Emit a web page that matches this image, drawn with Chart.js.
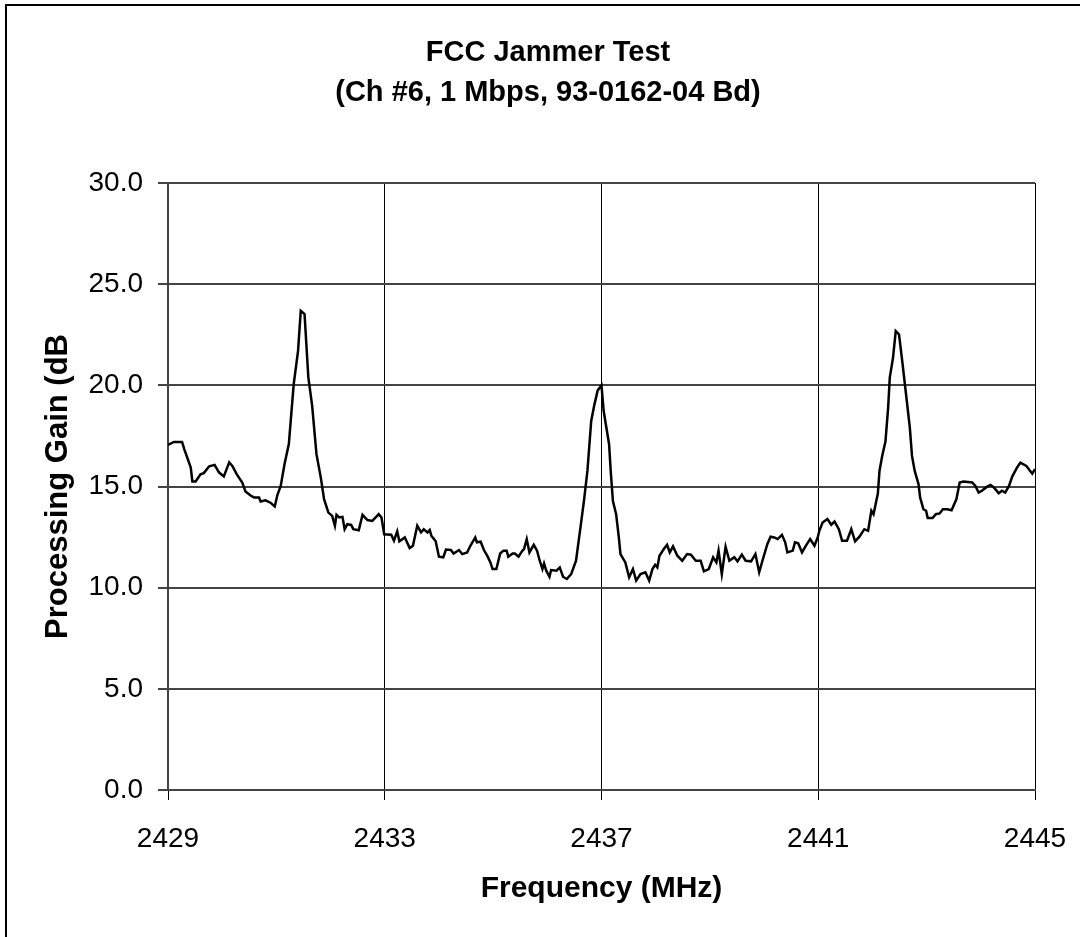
<!DOCTYPE html>
<html>
<head>
<meta charset="utf-8">
<script src="https://cdn.jsdelivr.net/npm/chart.js@4.4.1/dist/chart.umd.min.js"></script>
<style>
  body { margin: 0; background: #fff; }
  canvas { display: block; }
</style>
</head>
<body>
<canvas id="JammerChart" width="1080" height="937"></canvas>
<script>
// frequency (MHz) and processing gain (dB)
const freqs = [
  2429.00, 2429.11, 2429.26, 2429.30, 2429.42, 2429.45, 2429.51, 2429.60, 2429.66, 2429.76,
  2429.86, 2429.94, 2430.03, 2430.13, 2430.19, 2430.27, 2430.37, 2430.43, 2430.53, 2430.59,
  2430.68, 2430.71, 2430.80, 2430.89, 2430.97, 2431.02, 2431.08, 2431.15, 2431.23, 2431.26,
  2431.32, 2431.40, 2431.45, 2431.52, 2431.59, 2431.66, 2431.74, 2431.82, 2431.88, 2431.96,
  2432.03, 2432.08, 2432.11, 2432.16, 2432.22, 2432.26, 2432.31, 2432.38, 2432.42, 2432.52,
  2432.59, 2432.68, 2432.77, 2432.89, 2432.94, 2432.99, 2433.12, 2433.17, 2433.23, 2433.27,
  2433.37, 2433.46, 2433.52, 2433.60, 2433.67, 2433.72, 2433.79, 2433.83, 2433.86, 2433.94,
  2434.00, 2434.08, 2434.13, 2434.22, 2434.27, 2434.37, 2434.43, 2434.52, 2434.58, 2434.67,
  2434.70, 2434.77, 2434.83, 2434.89, 2434.95, 2434.99, 2435.06, 2435.13, 2435.19, 2435.25,
  2435.28, 2435.36, 2435.40, 2435.47, 2435.53, 2435.57, 2435.62, 2435.67, 2435.75, 2435.81,
  2435.86, 2435.91, 2435.94, 2435.98, 2436.04, 2436.07, 2436.17, 2436.23, 2436.29, 2436.36,
  2436.44, 2436.53, 2436.62, 2436.68, 2436.74, 2436.81, 2436.87, 2436.93, 2437.00, 2437.04,
  2437.14, 2437.17, 2437.21, 2437.27, 2437.32, 2437.35, 2437.44, 2437.51, 2437.58, 2437.64,
  2437.72, 2437.81, 2437.88, 2437.94, 2437.99, 2438.03, 2438.07, 2438.15, 2438.21, 2438.26,
  2438.32, 2438.40, 2438.49, 2438.58, 2438.65, 2438.74, 2438.83, 2438.89, 2438.98, 2439.06,
  2439.12, 2439.16, 2439.22, 2439.29, 2439.36, 2439.45, 2439.51, 2439.59, 2439.66, 2439.76,
  2439.84, 2439.91, 2439.97, 2440.06, 2440.12, 2440.19, 2440.25, 2440.33, 2440.39, 2440.43,
  2440.53, 2440.57, 2440.63, 2440.70, 2440.77, 2440.85, 2440.93, 2440.99, 2441.02, 2441.08,
  2441.17, 2441.24, 2441.30, 2441.38, 2441.44, 2441.53, 2441.61, 2441.68, 2441.76, 2441.85,
  2441.92, 2441.98, 2442.02, 2442.10, 2442.13, 2442.18, 2442.24, 2442.29, 2442.32, 2442.38,
  2442.43, 2442.49, 2442.55, 2442.62, 2442.69, 2442.73, 2442.78, 2442.85, 2442.88, 2442.94,
  2442.99, 2443.02, 2443.11, 2443.17, 2443.24, 2443.30, 2443.38, 2443.46, 2443.55, 2443.61,
  2443.68, 2443.84, 2443.90, 2443.96, 2444.02, 2444.11, 2444.18, 2444.24, 2444.33, 2444.39,
  2444.45, 2444.52, 2444.58, 2444.67, 2444.73, 2444.84, 2444.90, 2444.95, 2445.00
];

const gains = [
  17.06, 17.20, 17.20, 16.85, 15.94, 15.25, 15.25, 15.60, 15.66, 16.00,
  16.07, 15.70, 15.50, 16.19, 16.00, 15.60, 15.20, 14.75, 14.54, 14.46,
  14.46, 14.26, 14.32, 14.20, 14.01, 14.59, 15.03, 16.10, 17.10, 18.08,
  20.06, 21.70, 23.68, 23.52, 20.39, 19.00, 16.60, 15.44, 14.37, 13.71,
  13.55, 13.06, 13.60, 13.47, 13.50, 12.89, 13.14, 13.10, 12.89, 12.84,
  13.60, 13.34, 13.30, 13.63, 13.47, 12.64, 12.62, 12.32, 12.78, 12.29,
  12.48, 11.96, 12.07, 13.06, 12.73, 12.89, 12.73, 12.85, 12.57, 12.29,
  11.53, 11.50, 11.88, 11.86, 11.69, 11.86, 11.66, 11.74, 12.07, 12.48,
  12.24, 12.27, 11.86, 11.58, 11.25, 10.92, 10.92, 11.69, 11.83, 11.83,
  11.53, 11.69, 11.69, 11.53, 11.79, 11.91, 12.40, 11.74, 12.12, 11.83,
  11.33, 10.92, 11.20, 10.84, 10.54, 10.87, 10.84, 11.00, 10.54, 10.43,
  10.67, 11.33, 13.14, 14.37, 15.77, 18.24, 19.06, 19.75, 20.00, 18.73,
  17.09, 15.77, 14.29, 13.63, 12.48, 11.66, 11.25, 10.51, 10.92, 10.35,
  10.67, 10.76, 10.35, 10.92, 11.13, 11.00, 11.58, 11.91, 12.12, 11.74,
  12.04, 11.58, 11.33, 11.66, 11.63, 11.33, 11.33, 10.81, 10.92, 11.50,
  11.25, 11.83, 10.67, 12.02, 11.33, 11.50, 11.30, 11.63, 11.33, 11.30,
  11.66, 10.76, 11.33, 12.15, 12.52, 12.48, 12.40, 12.61, 12.24, 11.74,
  11.83, 12.24, 12.19, 11.74, 12.07, 12.40, 12.07, 12.48, 12.81, 13.22,
  13.39, 13.11, 13.27, 12.89, 12.32, 12.32, 12.89, 12.29, 12.52, 12.89,
  12.81, 13.80, 13.63, 14.65, 15.77, 16.51, 17.22, 18.90, 20.38, 21.37,
  22.68, 22.52, 21.20, 19.56, 17.91, 16.51, 15.77, 15.12, 14.46, 13.88,
  13.80, 13.44, 13.44, 13.63, 13.67, 13.88, 13.88, 13.83, 14.38, 15.20,
  15.25, 15.20, 15.03, 14.70, 14.79, 14.98, 15.08, 14.95, 14.67, 14.79,
  14.70, 15.03, 15.49, 15.94, 16.18, 16.02, 15.80, 15.64, 15.86
];

const titleLines = ['FCC Jammer Test', '(Ch #6, 1 Mbps, 93-0162-04 Bd)'];
const xTitle = 'Frequency (MHz)';
const yTitle = 'Processing Gain (dB';

const FONT = "'Liberation Sans', Arial, sans-serif";

// outer frame + two-line title
const framePlugin = {
  id: 'frame',
  afterDraw: function (chart) {
    const ctx = chart.ctx;
    ctx.save();
    ctx.strokeStyle = '#000';
    ctx.lineWidth = 2;
    ctx.beginPath();
    ctx.moveTo(6, 937);
    ctx.lineTo(6, 5);
    ctx.lineTo(1080, 5);
    ctx.stroke();

    ctx.fillStyle = '#000';
    ctx.font = 'bold 29px ' + FONT;
    ctx.textAlign = 'center';
    ctx.textBaseline = 'middle';
    ctx.fillText(titleLines[0], 548, 53);
    ctx.fillText(titleLines[1], 548, 93);
    ctx.restore();
  }
};

const points = freqs.map((f, i) => ({ x: f, y: gains[i] }));

const config = {
  type: 'line',
  data: {
    datasets: [{
      label: 'Processing Gain',
      data: points,
      borderColor: '#000',
      borderWidth: 2.5,
      pointRadius: 0,
      tension: 0,
      fill: false
    }]
  },
  options: {
    responsive: false,
    animation: false,
    layout: { padding: { top: 183, right: 45, left: 0, bottom: 0 } },
    plugins: {
      legend: { display: false },
      tooltip: { enabled: false }
    },
    scales: {
      x: {
        type: 'linear',
        min: 2429,
        max: 2445,
        afterFit: function (scale) {
          scale.height = 147;
          scale.paddingLeft = 0;
          scale.paddingRight = 0;
        },
        ticks: {
          stepSize: 4,
          color: '#000',
          padding: 22,
          maxRotation: 0,
          font: { family: FONT, size: 28 },
          callback: v => String(v)
        },
        grid: { color: '#000', lineWidth: 1, tickLength: 10 },
        border: { color: '#444', width: 2 },
        title: {
          display: true,
          text: xTitle,
          color: '#000',
          font: { family: FONT, size: 30, weight: 'bold' },
          padding: { top: 0, bottom: 30 }
        }
      },
      y: {
        min: 0,
        max: 30,
        afterFit: function (scale) {
          scale.width = 168;
          scale.paddingTop = 0;
          scale.paddingBottom = 0;
        },
        ticks: {
          stepSize: 5,
          color: '#000',
          padding: 15,
          font: { family: FONT, size: 28 },
          callback: v => v.toFixed(1)
        },
        grid: { color: '#444', lineWidth: 2, tickLength: 10 },
        border: { color: '#444', width: 2 },
        title: {
          display: true,
          text: yTitle,
          color: '#000',
          font: { family: FONT, size: 31, weight: 'bold' },
          padding: { top: 40, bottom: 0 }
        }
      }
    }
  },
  plugins: [framePlugin]
};

const JammerChart = new Chart(document.getElementById('JammerChart'), config);
</script>
</body>
</html>
